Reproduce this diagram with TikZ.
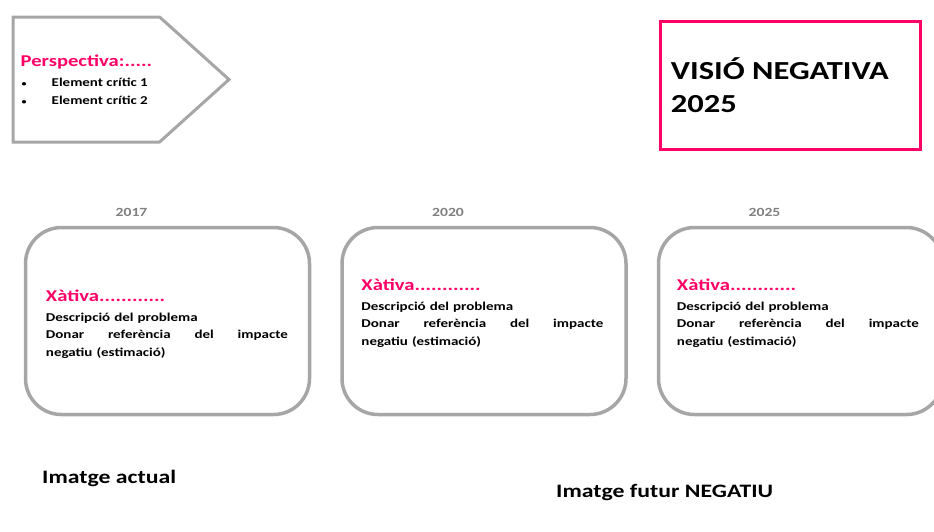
\documentclass[tikz,border=0pt]{standalone}
\usepackage{fontspec}
\setmainfont{Carlito}[FakeStretch=1.25]
\usetikzlibrary{positioning, shapes.symbols}

\definecolor{accent}{RGB}{255,0,102}
\definecolor{boxgray}{RGB}{166,166,166}
\definecolor{yeargray}{RGB}{128,128,128}

\newcommand{\xativatext}{%
  {\color{accent}\fontsize{16.5}{17.5}\selectfont Xàtiva............}\\[2pt]
  Descripció del problema\\
  Donar\hfill referència\hfill del\hfill impacte\\
  negatiu (estimació)}

\begin{document}
\begin{tikzpicture}[x=1pt, y=-1pt, node distance=29pt, font=\bfseries]
  % Styles
  \tikzstyle{yearbox}=[draw=boxgray, line width=3.5pt, rounded corners=36pt, minimum width=284pt, minimum height=187pt]
  \tikzstyle{yearlabel}=[text=yeargray, font=\bfseries\fontsize{12.5}{14}\selectfont, inner sep=0pt, xshift=-36pt]
  \tikzset{boxtext/.style={anchor=north west, inner sep=0pt, text width=242pt, align=left,
      font=\bfseries\fontsize{12}{17.5}\selectfont}}
  \tikzset{caption/.style={anchor=west, inner sep=0pt, font=\bfseries\fontsize{19}{22}\selectfont}}

  \useasboundingbox (0,0) rectangle (934,531);

  % --- Top row ---
  \node[draw=boxgray, line width=3pt, signal, signal to=east, signal pointer angle=84,
        minimum width=216pt, minimum height=125pt, anchor=west] (persp) at (11.5,79.5) {};
  \node[anchor=west, inner sep=0pt, align=left, xshift=9pt,
        font=\bfseries\fontsize{12}{18}\selectfont] (persptext) at (persp.west)
    {{\color{accent}\fontsize{16.5}{18}\selectfont Perspectiva:.....}\\[2pt]
     \makebox[31pt][l]{\hspace{1pt}\fontsize{8}{8}\selectfont•}Element crític 1\\
     \makebox[31pt][l]{\hspace{1pt}\fontsize{8}{8}\selectfont•}Element crític 2};

  \node[draw=accent, line width=3.5pt, minimum width=260pt, minimum height=128pt] (vision) at (790.5,85.5) {};
  \node[anchor=west, inner sep=0pt, align=left, xshift=12pt,
        font=\bfseries\fontsize{26}{33}\selectfont] (visiontext) at (vision.west) {VISIÓ NEGATIVA\\2025};

  % --- Year boxes ---
  \node[yearbox] (box1) at (167.5,321) {};
  \node[yearbox, right=of box1] (box2) {};
  \node[yearbox, right=of box2] (box3) {};

  \node[yearlabel, above=9pt of box1] (y1) {2017};
  \node[yearlabel, above=9pt of box2] (y2) {2020};
  \node[yearlabel, above=9pt of box3] (y3) {2025};

  \node[boxtext, xshift=22pt, yshift=-64pt] (t1) at (box1.north west) {\xativatext};
  \node[boxtext, xshift=21pt, yshift=-53pt] (t2) at (box2.north west) {\xativatext};
  \node[boxtext, xshift=20pt, yshift=-53pt] (t3) at (box3.north west) {\xativatext};

  % --- Captions ---
  \node[caption] (actual) at (42,478) {Imatge actual};
  \node[caption] (futur) at (556,492) {Imatge futur NEGATIU};
\end{tikzpicture}
\end{document}
